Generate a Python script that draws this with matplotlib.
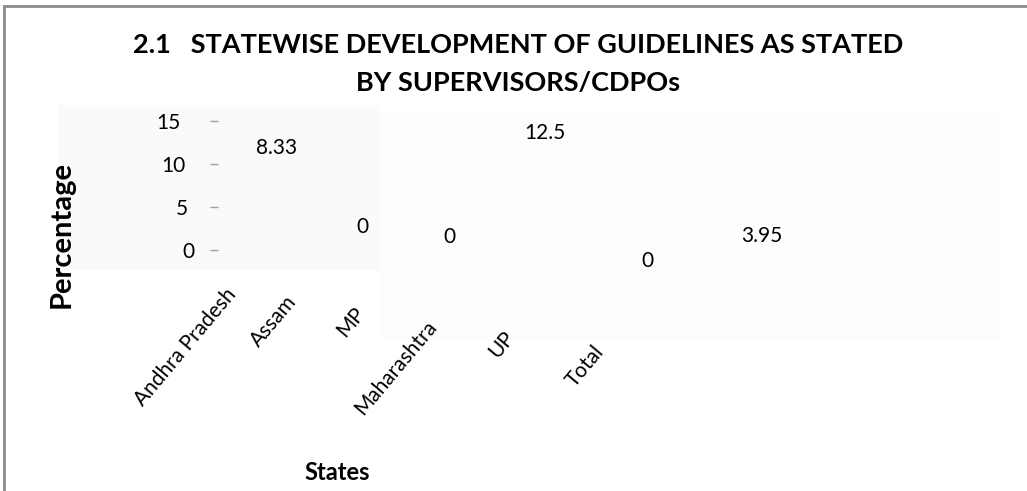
import matplotlib
matplotlib.use("Agg")
import matplotlib.pyplot as plt
from matplotlib.patches import Rectangle
from matplotlib.transforms import ScaledTranslation

# data
states = ["Andhra Pradesh", "Assam", "MP", "Maharashtra", "UP", "Total"]
percent = [8.33, 0, 0, 12.5, 0, 3.95]
yticks = [0, 5, 10, 15]

# label nudges in pixels (the original chart is a skewed 3D layout)
value_offsets = [(0, 30), (-12, 23), (-22, 13), (-23, 9), (-18, -11), (0, -20)]
name_offsets = [(-52, -35), (-89, -42), (-118, -53), (-143, -67), (-162, -77), (-169, -92)]
ytick_shift = [-8, -15, -17, -22]

plt.rcParams['font.family'] = ['Lato', 'DejaVu Sans']

W, H = 1027, 491
fig = plt.figure(figsize=(W / 100, H / 100), dpi=100)
fig.patch.set_facecolor("white")

def px(x0, y0, x1, y1):
    # pixel box (top-left origin) -> figure fraction rect
    return [x0 / W, 1 - y1 / H, (x1 - x0) / W, (y1 - y0) / H]

# faint floor / wall shading
for (x0, y0, x1, y1, c) in [(58, 105, 380, 270, "#fafafa"), (380, 112, 1000, 340, "#fdfdfd")]:
    r = px(x0, y0, x1, y1)
    fig.patches.append(Rectangle((r[0], r[1]), r[2], r[3], transform=fig.transFigure,
                                 facecolor=c, edgecolor="none", zorder=-5))

# outer border (top and left only visible)
fig.add_artist(plt.Line2D([4 / W, 4 / W], [0, 1 - 6 / H], transform=fig.transFigure, color="#8c8c8c", lw=2))
fig.add_artist(plt.Line2D([4 / W, 1], [1 - 6 / H, 1 - 6 / H], transform=fig.transFigure, color="#8c8c8c", lw=2))

ax = fig.add_axes(px(218, 105, 1000, 270))
ax.set_zorder(2)
ax.set_facecolor("none")
x = list(range(len(states)))
ax.bar(x, percent, width=0.6, color="none", edgecolor="none")
ax.set_xlim(-0.608, 7.454)
ax.set_ylim(-2.33, 16.86)
for s in ax.spines.values():
    s.set_visible(False)
ax.set_xticks([])
ax.set_yticks(yticks)
ax.tick_params(axis="y", length=6, width=1, color="#a0a0a0", labelsize=15, pad=5)
for lab, dx in zip(ax.get_yticklabels(), ytick_shift):
    lab.set_transform(lab.get_transform() + ScaledTranslation(dx / 100, 0, fig.dpi_scale_trans))

for i, v in enumerate(percent):
    dx, dy = value_offsets[i]
    ax.annotate(f"{v:g}", (i, v), xytext=(dx, dy), textcoords="offset pixels",
                ha="center", va="center", fontsize=15)

for i, name in enumerate(states):
    dx, dy = name_offsets[i]
    ax.annotate(name, (i, 0), xytext=(dx, dy), textcoords="offset pixels",
                ha="right", va="top", rotation=50, rotation_mode="anchor",
                fontsize=15, annotation_clip=False)

fig.text(518 / W, 1 - 33 / H, "2.1   STATEWISE DEVELOPMENT OF GUIDELINES AS STATED\nBY SUPERVISORS/CDPOs",
         ha="center", va="top", fontsize=19.5, fontweight="bold", linespacing=1.72)
fig.text(62 / W, 1 - 235 / H, "Percentage", rotation=90, ha="center", va="center",
         fontsize=21, fontweight="bold")
fig.text(337 / W, 1 - 472 / H, "States", ha="center", va="center", fontsize=17, fontweight="bold")

fig.savefig("out.png", dpi=100)
